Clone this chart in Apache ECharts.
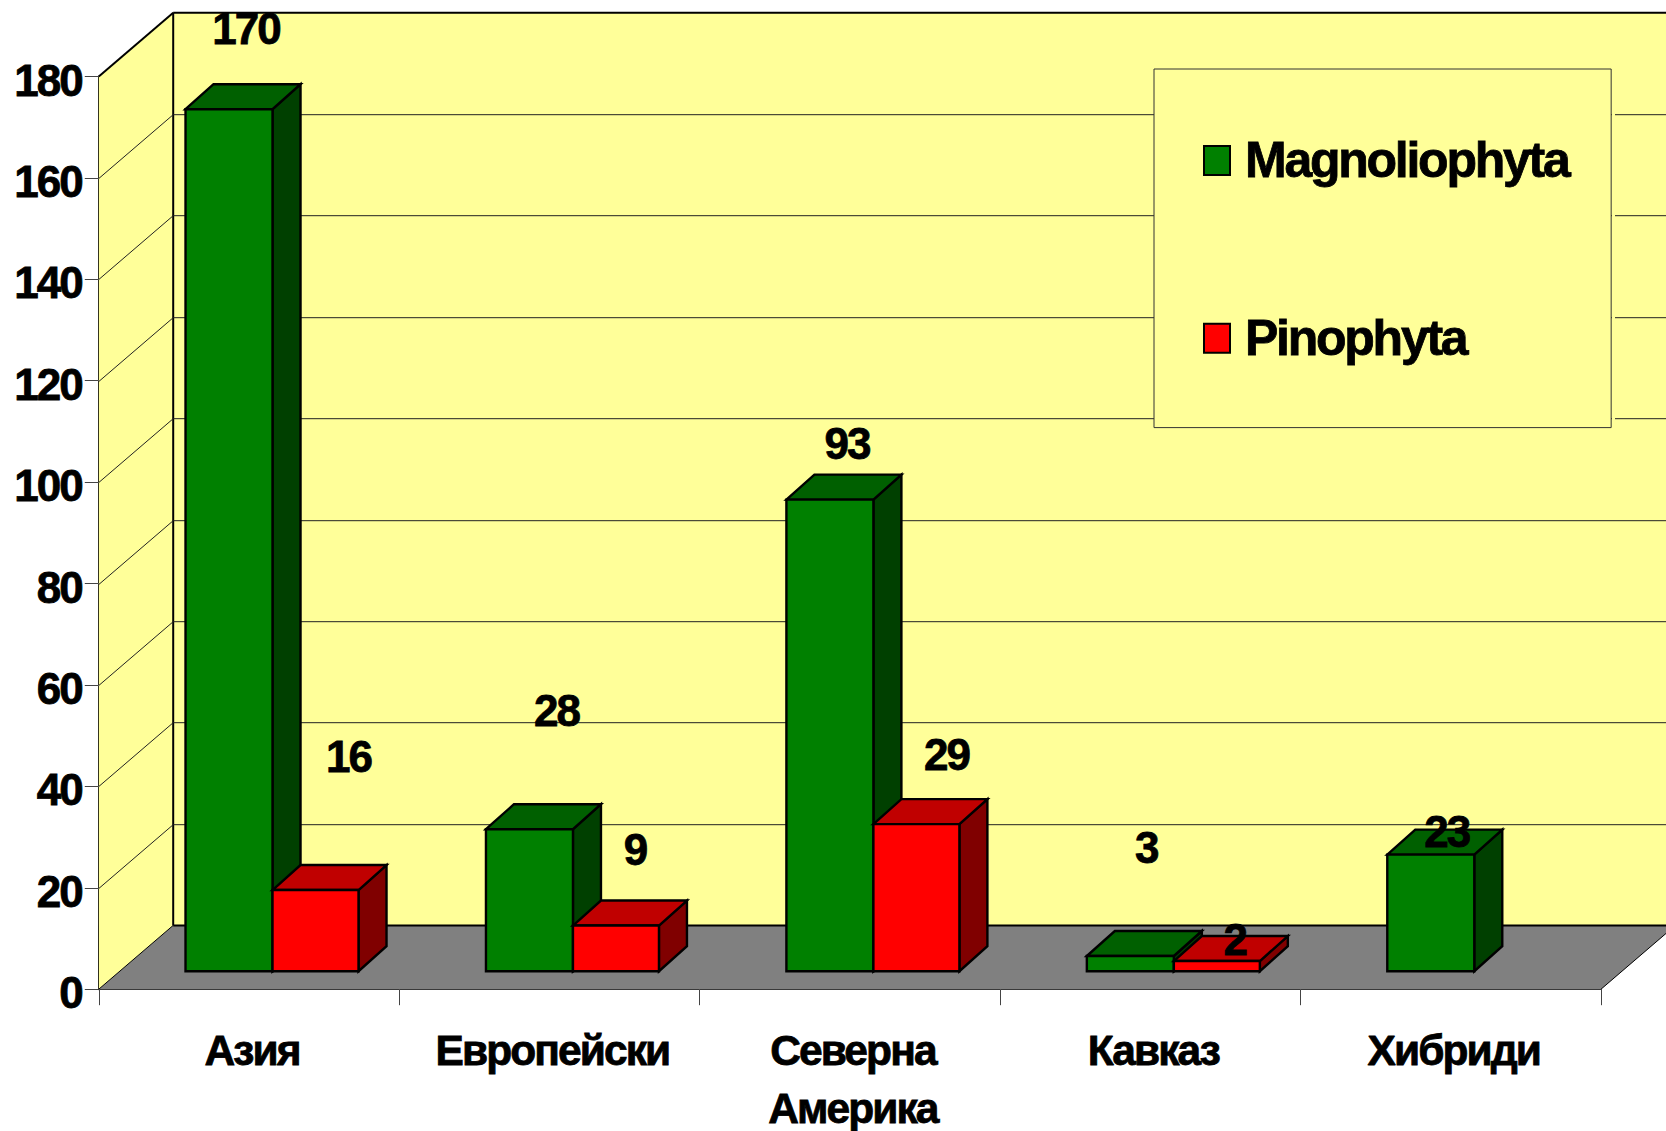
<!DOCTYPE html>
<html>
<head>
<meta charset="utf-8">
<title>Magnoliophyta / Pinophyta</title>
<script src="https://cdn.jsdelivr.net/npm/echarts@6/dist/echarts.min.js"></script>
<style>
  html, body { margin: 0; background: #fff; }
  #chart { width: 1666px; height: 1131px; }
  /* the original text is set very tight */
  #chart text { letter-spacing: -0.045em; }
</style>
</head>
<body>
<div id="chart"></div>
<script>
const categories = ['Азия', 'Европейски', 'Северна\nАмерика', 'Кавказ', 'Хибриди'];
const magnoliophyta = [170, 28, 93, 3, 23];
const pinophyta = [16, 9, 29, 2, null];
const gridTicks = [20, 40, 60, 80, 100, 120, 140, 160];

// data labels were placed by hand in the original, px from the top of each bar
const magnoliophytaLabelOffset = [[17, -81], [27, -119], [17, -56], [16, -108], [16, -23]];
const pinophytaLabelOffset = [[33, -134], [19, -76], [30, -70], [18, -22], [0, 0]];

const FONT = '"Liberation Sans", Arial, sans-serif';
const YELLOW = '#FFFF99';
const FLOOR_DEPTH = [74.4, -63.8];
const BAR_SHIFT = [23.5, -18];
const BAR_DEPTH = [28, -25];
const TEXT_BOLDEN = 0.8;

const line = (x1, y1, x2, y2, width, color) => ({
  type: 'line',
  shape: { x1, y1, x2, y2 },
  style: { stroke: color || '#000', lineWidth: width },
});
const poly = (points, fill, stroke, width) => ({
  type: 'polygon',
  shape: { points },
  style: { fill, stroke: stroke || 'none', lineWidth: width || 0 },
});

// yellow walls and grey floor
function renderWalls(params) {
  const { x, y, width, height } = params.coordSys;
  const [dx, dy] = FLOOR_DEPTH;
  const right = x + width;
  const bottom = y + height;
  return {
    type: 'group',
    children: [
      poly([[x + dx, y + dy], [right + dx, y + dy], [right + dx, bottom + dy], [x + dx, bottom + dy]], YELLOW),
      poly([[x, y], [x + dx, y + dy], [x + dx, bottom + dy], [x, bottom]], YELLOW),
      poly([[x, bottom], [x + dx, bottom + dy], [right + dx, bottom + dy], [right, bottom]], '#808080'),
      line(x, y, x + dx, y + dy, 2),
      line(x + dx, y + dy, right + dx, y + dy, 2),
      line(x + dx, y + dy, x + dx, bottom + dy, 2),
      line(x + dx, bottom + dy, right + dx, bottom + dy, 2),
      line(x, bottom, x + dx, bottom + dy, 1),
      line(right, bottom, right + dx, bottom + dy, 1),
    ],
  };
}

function renderGrid(params, api) {
  const { x, width } = params.coordSys;
  const py = Math.round(api.coord([0, api.value(0)])[1]) + 0.5;
  const [dx, dy] = FLOOR_DEPTH;
  return {
    type: 'group',
    children: [
      line(x, py, x + dx, py + dy, 1, '#222'),
      line(x + dx, py + dy, x + width + dx, py + dy, 1, '#222'),
    ],
  };
}

function barRenderer(side, barWidth, colors, labelOffset) {
  return function (params, api) {
    const idx = api.value(0);
    const val = api.value(1);
    if (val == null || isNaN(val)) return null;
    const top = api.coord([idx, val]);
    const base = api.coord([idx, 0]);
    const cx = top[0] + BAR_SHIFT[0];
    const x0 = side < 0 ? cx - barWidth : cx;
    const x1 = x0 + barWidth;
    const y0 = top[1] + BAR_SHIFT[1];
    const y1 = base[1] + BAR_SHIFT[1];
    const [dx, dy] = BAR_DEPTH;
    const off = labelOffset[params.dataIndex];
    return {
      type: 'group',
      children: [
        poly([[x1, y0], [x1 + dx, y0 + dy], [x1 + dx, y1 + dy], [x1, y1]], colors[2], '#000', 2.4),
        poly([[x0, y0], [x0 + dx, y0 + dy], [x1 + dx, y0 + dy], [x1, y0]], colors[1], '#000', 2.4),
        poly([[x0, y0], [x1, y0], [x1, y1], [x0, y1]], colors[0], '#000', 2.4),
        {
          type: 'text',
          z2: 10,
          style: {
            text: String(val),
            x: (x0 + x1) / 2 + off[0],
            y: y0 + off[1],
            align: 'center',
            verticalAlign: 'middle',
            fill: '#000',
            stroke: '#000',
            lineWidth: TEXT_BOLDEN,
            font: 'bold 44px ' + FONT,
          },
        },
      ],
    };
  };
}

const chart = echarts.init(document.getElementById('chart'), null, { renderer: 'svg' });

chart.setOption({
  animation: false,
  backgroundColor: '#fff',
  grid: { left: 98.8, right: 65, top: 76.5, bottom: 141.8, outerBoundsMode: 'none' },
  legend: {
    orient: 'vertical',
    left: 1154,
    top: 69,
    padding: [66, 13, 64, 49],
    itemGap: 127,
    itemWidth: 26,
    itemHeight: 29,
    icon: 'rect',
    backgroundColor: YELLOW,
    borderColor: '#333',
    borderWidth: 1,
    data: ['Magnoliophyta', 'Pinophyta'],
    itemStyle: { borderColor: '#000', borderWidth: 2 },
    textStyle: {
      fontFamily: FONT,
      fontWeight: 'bold',
      fontSize: 50,
      color: '#000',
      padding: [0, 0, 0, 10],
      textBorderColor: '#000',
      textBorderWidth: TEXT_BOLDEN,
    },
  },
  // small yellow gap that cuts the grid lines right of the legend box
  graphic: [{
    type: 'rect',
    left: 1612,
    top: 69,
    z: 3,
    shape: { width: 3, height: 358 },
    style: { fill: YELLOW },
  }],
  xAxis: {
    type: 'category',
    data: categories,
    axisLine: { lineStyle: { color: '#222', width: 1 } },
    axisTick: { show: true, alignWithLabel: false, length: 16, lineStyle: { color: '#444' } },
    axisLabel: {
      interval: 0,
      margin: 32,
      padding: [0, 0, 0, 6],
      fontFamily: FONT,
      fontWeight: 'bold',
      fontSize: 42.5,
      lineHeight: 58,
      color: '#000',
      textBorderColor: '#000',
      textBorderWidth: TEXT_BOLDEN,
    },
  },
  yAxis: {
    type: 'value',
    min: 0,
    max: 180,
    interval: 20,
    splitLine: { show: false },
    axisLine: { show: true, lineStyle: { color: '#000', width: 2 } },
    axisTick: { show: true, length: 14, lineStyle: { color: '#444' } },
    axisLabel: {
      margin: 17,
      formatter: '{v|{value}}',
      rich: {
        v: {
          padding: [7, 0, 0, 0],
          fontFamily: FONT,
          fontWeight: 'bold',
          fontSize: 44,
          color: '#000',
          textBorderColor: '#000',
          textBorderWidth: TEXT_BOLDEN,
        },
      },
    },
  },
  series: [
    { type: 'custom', silent: true, z: 1, data: [0], renderItem: renderWalls },
    { type: 'custom', silent: true, z: 1, data: gridTicks.map((t) => [t]), encode: { y: 0 }, renderItem: renderGrid },
    {
      name: 'Magnoliophyta',
      type: 'custom',
      z: 3,
      itemStyle: { color: '#008000' },
      data: magnoliophyta.map((v, i) => [i, v]),
      encode: { x: 0, y: 1 },
      renderItem: barRenderer(-1, 87, ['#008000', '#006000', '#004000'], magnoliophytaLabelOffset),
    },
    {
      name: 'Pinophyta',
      type: 'custom',
      z: 4,
      itemStyle: { color: '#FF0000' },
      data: pinophyta.map((v, i) => [i, v]),
      encode: { x: 0, y: 1 },
      renderItem: barRenderer(1, 86, ['#FF0000', '#C00000', '#800000'], pinophytaLabelOffset),
    },
  ],
});
</script>
</body>
</html>
